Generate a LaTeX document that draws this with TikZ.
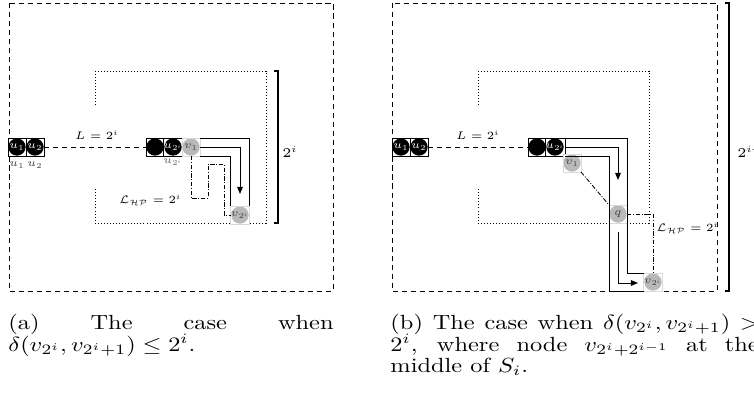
\RequirePackage{fix-cm}
\documentclass[tikz,border=0pt]{standalone}
\usepackage{amsmath,amssymb}
\usetikzlibrary{arrows.meta,calc}
\newcommand{\capline}[1]{\scalebox{1}[0.84]{#1}}
\begin{document}
\begin{tikzpicture}[x=0.41pt,y=-0.41pt,
  sq/.style={rectangle, minimum size=7.38pt, inner sep=0pt, outer sep=0pt, line width=0.3pt},
  bnode/.style={sq, draw=black, fill=white,
    path picture={\fill[black] (path picture bounding box.center) circle (3.55pt);},
    text=white, font=\fontsize{4.5}{5}\selectfont},
  gnode/.style={sq, draw=gray!30, fill=white,
    path picture={\fill[gray!55] (path picture bounding box.center) circle (3.55pt);},
    text=black!75, font=\fontsize{4.5}{5}\selectfont},
  lbl/.style={inner sep=0pt, font=\fontsize{4.5}{5}\selectfont},
  region/.style={line width=0.35pt, dash pattern=on 2.1pt off 1.6pt},
  dotbox/.style={line width=0.35pt, dash pattern=on 0.35pt off 0.9pt},
  brace/.style={line width=0.5pt},
  route/.style={line width=0.4pt},
  arr/.style={route, -{Triangle[length=2.9pt,width=2.3pt]}},
  dd/.style={line width=0.35pt, dash pattern=on 1.8pt off 0.7pt on 0.35pt off 0.7pt},
  captext/.style={inner sep=0pt, anchor=base west, font=\fontsize{10}{12}\selectfont}]
\path[use as bounding box] (0,0) rectangle (754,399);
\clip (0,0) rectangle (754,399);

% ================= (a) =================
\draw[region] (9,3) rectangle (333,291);
\draw[dotbox] (95,105) -- (95,71) -- (266,71) -- (266,223) -- (95,223) -- (95,188);
\draw[brace] (274,71) -- (278,71) -- (278,223) -- (274,223);
\node[lbl, font=\fontsize{5.5}{6}\selectfont] (ha) at (290,152) {$2^i$};

\node[bnode] (au1) at (17,147) {$u_1$};
\node[bnode] (au2) at (35,147) {$u_2$};
\node[bnode] (ab) at (155,147) {};
\node[bnode] (au2i) at (173,147) {$u_{2^i}$};
\node[gnode] (av1) at (191,147) {$v_1$};
\node[gnode] (av2i) at (240,215) {$v_{2^i}$};

\node[lbl, text=black!75] (au1l) at (17,165) {$u_1$};
\node[lbl, text=black!75] (au2l) at (35,165) {$u_2$};
\node[lbl, text=black!60] (au2il) at (173,162) {$u_{2^i}$};

\draw[region] (au2.east) -- (ab.west);
\node[lbl] (aL) at (97,135) {$L=2^i$};

\coordinate (atip) at (240,194);
\draw[route] (av1.north east) -| (av2i.north east);
\draw[arr] (av1.east) -| (atip);
\draw[route] (av1.south east) -| (av2i.north west);

\draw[dd] (av1.south) -- ++(0,42) -- ++(17,0) -- ++(0,-34) -- ++(16,0) |- (av2i.west);
\node[lbl, anchor=east] (aLHP) at (182,200) {$\mathcal{L}_{\mathcal{HP}}=2^i$};

% ================= (b) =================
\draw[region] (392,3) rectangle (717,291);
\draw[dotbox] (478,105) -- (478,71) -- (649,71) -- (649,223) -- (478,223) -- (478,188);
\draw[brace] (725,3) -- (729,3) -- (729,291) -- (725,291);
\node[lbl, anchor=west, font=\fontsize{5.5}{6}\selectfont] (hb) at (737,152) {$2^{i+1}$};

\node[bnode] (bu1) at (401,147) {$u_1$};
\node[bnode] (bu2) at (419,147) {$u_2$};
\node[bnode] (bb) at (537,147) {};
\node[bnode] (bu2i) at (555,147) {$u_{2^i}$};
\node[gnode] (bv1) at (572,163) {$v_1$};
\node[gnode] (bq) at (618,214) {$q$};
\node[gnode] (bv2i) at (653,282) {$v_{2^i}$};

\draw[region] (bu2.east) -- (bb.west);
\node[lbl] (bL) at (478,135) {$L=2^i$};

\coordinate (btip) at (618,180);
\coordinate (bs) at (618,232);
\coordinate (be) at (638,283);
\draw[route] (bu2i.north east) -| (bq.east |- bv2i.north west) -- (bv2i.north west);
\draw[arr] (bu2i.east) -| (btip);
\draw[route] (bu2i.south east) -| (bq.west |- bv2i.south west) -- (bv2i.south west);
\draw[arr] (bs) |- (be);

\draw[dd] (bv1.south east) -- (bq.north west);
\draw[dd] (bq.east) -| (bv2i.north);
\node[lbl, anchor=west] (bLHP) at (656,228) {$\mathcal{L}_{\mathcal{HP}}=2^i$};

% ================= captions =================
\node[captext] (ca1) at (8,329) {\capline{\makebox[133.3pt][s]{(a) The case when}}};
\node[captext] (ca2) at (8,351) {\capline{$\delta(v_{2^i},v_{2^i+1})\le 2^i$.}};
\node[captext] (cb1) at (390,329) {\capline{\makebox[151pt][s]{(b) The case when $\delta(v_{2^i},v_{2^i+1})>$}}};
\node[captext] (cb2) at (390,351) {\capline{\makebox[151pt][s]{$2^i$, where node $v_{2^i+2^{i-1}}$ at the}}};
\node[captext] (cb3) at (390,372) {\capline{middle of $S_i$.}};
\end{tikzpicture}
\end{document}
